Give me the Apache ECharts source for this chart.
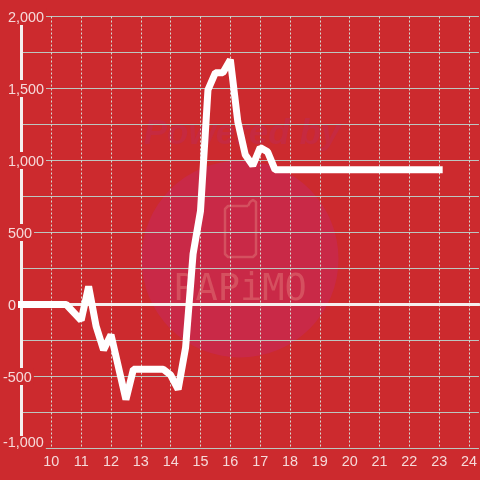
<!DOCTYPE html>
<html><head><meta charset="utf-8">
<style>html,body{margin:0;padding:0;background:#cc2a2e}#c{width:480px;height:480px}</style>
<script src="https://cdn.jsdelivr.net/npm/echarts@6/dist/echarts.min.js"></script>
</head><body><div id="c"></div>
<script>
const hours  = [9,10.5,11,11.25,11.5,11.75,12,12.5,12.75,13,13.75,14,14.25,14.5,14.75,15,15.25,15.5,15.75,16,16.25,16.5,16.75,17,17.25,17.5,23];
const values = [0,0,-110,125,-150,-315,-210,-660,-450,-450,-450,-490,-590,-300,350,650,1490,1610,1610,1700,1270,1040,965,1090,1060,935,935];
const labelColor = '#f6d9d9';
const bg = '#cc2a2e';
const font = 'Liberation Sans';
const fmtPos = v => (v >= 0 && v % 500 === 0) ? '{a|' + v.toLocaleString('en-US') + '}' : '';
const fmtNeg = v => v === -1000 ? '{m|' + v.toLocaleString('en-US') + '}' : (v < 0 && v % 500 === 0) ? '{a|' + v.toLocaleString('en-US') + '}' : '';
const tok = {color:labelColor,fontFamily:font,fontSize:14.4,backgroundColor:bg};
const rich = {a:{...tok,padding:[3,2,0,0]},m:{...tok,padding:[0,2,11,0]}};
const yLab = {color:labelColor,fontFamily:font,fontSize:14.4,align:'left',rich};
const chart = echarts.init(document.getElementById('c'),null,{renderer:'canvas'});
chart.setOption({
  animation:false,
  backgroundColor:bg,
  grid:{left:20.5,right:0,top:16.5,bottom:31.5,containLabel:false},
  graphic:[
    {type:'circle',z:-5,silent:true,shape:{cx:240,cy:259,r:98.5},style:{fill:'#c92947'}},
    {type:'text',z:-5,silent:true,style:{x:242,y:134,text:'Powered by',align:'center',verticalAlign:'middle',fontFamily:font,fontStyle:'italic',fontWeight:'bold',fontSize:35,fill:'#c62a40'}},
    {type:'polyline',z:-4,silent:true,shape:{points:[[248,206],[228,206],[225,209],[225,254],[228,257],[253,257],[256,254],[256,202],[253,200],[250,202],[248,206]]},style:{fill:'none',stroke:'#d4505f',lineWidth:2.5,lineJoin:'round'}},
    {type:'text',z:-4,silent:true,style:{x:240,y:290,text:'PAPiMO',align:'center',verticalAlign:'middle',fontFamily:'DejaVu Sans Mono',fontSize:37,fill:'#d5505f'}}
  ],
  xAxis:[
    {type:'value',min:9,max:24.333,interval:1,position:'bottom',
     axisLine:{show:false,onZero:false},axisTick:{show:false},
     axisLabel:{showMinLabel:false,showMaxLabel:false,color:labelColor,fontFamily:font,fontSize:14.4,margin:7},
     splitLine:{show:true,showMinLine:false,showMaxLine:false,lineStyle:{color:'#d5dcd4',width:1,type:[2,2]}}},
    {type:'value',min:9,max:24.333,position:'bottom',
     axisLine:{show:true,onZero:true,lineStyle:{color:'#f5efef',width:3}},axisTick:{show:false},axisLabel:{show:false},splitLine:{show:false}}
  ],
  yAxis:[
    {type:'value',min:-1000,max:2000,interval:250,position:'left',
     axisLine:{show:true,onZero:false,lineStyle:{color:'#f5efef',width:3}},axisTick:{show:false},
     axisLabel:{...yLab,margin:13.5,formatter:fmtPos},
     splitLine:{show:true,lineStyle:{color:'#bcc6c0',width:1}}},
    {type:'value',min:-1000,max:2000,interval:250,position:'left',
     axisLine:{show:false,onZero:false},axisTick:{show:false},
     axisLabel:{...yLab,margin:18.5,formatter:fmtNeg},
     splitLine:{show:false}}
  ],
  series:[{type:'line',xAxisIndex:0,yAxisIndex:0,data:hours.map((h,i)=>[h,values[i]]),
    showSymbol:false,symbol:'none',clip:false,
    lineStyle:{color:'#ffffff',width:7,cap:'square',join:'bevel'}}]
});
</script></body></html>
